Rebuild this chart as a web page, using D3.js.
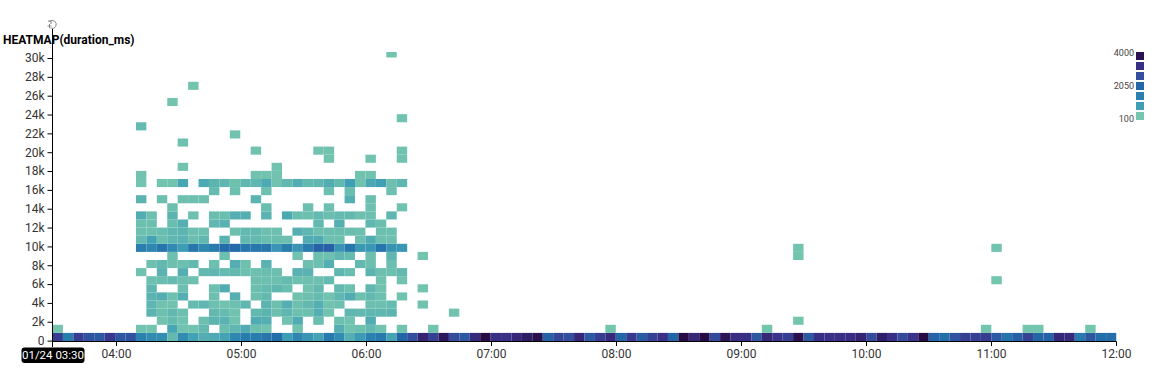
<!DOCTYPE html>
<html>
<head>
<meta charset="utf-8">
<script src="https://cdn.jsdelivr.net/npm/d3@7"></script>
<style>
  html, body { margin: 0; padding: 0; background: #fff; }
  svg { display: block; font-family: Roboto, sans-serif; }
</style>
</head>
<body>
<svg id="chart" width="1156" height="368"></svg>
<script>
// [column, duration value] for each row of the heatmap, column = 5 min bin from 03:30
const row0Values = [3050,1450,3050,2600,2450,3150,2500,2600,1400,1200,1100,320,1150,720,500,560,700,1250,1500,1500,1700,1900,800,1300,950,700,1600,1150,500,850,1400,1600,680,2100,2750,3550,3000,3750,2750,2450,3450,4000,3350,3300,3500,3700,3900,2200,2900,2700,3500,2450,3050,3450,2100,3150,2400,2950,3300,2100,4000,3500,4000,2800,3800,3400,3350,2500,3500,3250,3050,3900,2450,3350,3300,3350,3400,3550,2800,3650,3350,2800,3250,4000,2150,1900,2600,3000,3000,3050,2450,1750,2250,2950,2100,2200,3500,3450,1600,2500,1900,1850];
const row1 = [[0,120],[8,130],[9,130],[11,650],[12,150],[13,150],[14,300],[16,230],[17,350],[18,550],[19,200],[20,150],[23,150],[27,500],[28,150],[29,200],[30,300],[31,150],[33,150],[36,130],[53,120],[68,120],[89,120],[93,120],[94,120],[99,120]];
const row2 = [[10,150],[11,280],[12,150],[14,200],[15,400],[16,430],[17,150],[19,550],[20,480],[22,150],[23,550],[25,230],[27,200],[28,150],[30,550],[71,120]];
const row3 = [[9,400],[10,200],[11,320],[12,200],[15,320],[16,280],[17,150],[19,320],[20,400],[21,200],[22,350],[23,200],[24,200],[25,480],[26,150],[28,350],[29,320],[30,350],[31,350],[32,400],[38,150]];
const row4 = [[9,350],[10,150],[11,150],[13,280],[14,350],[15,200],[16,150],[17,200],[18,350],[20,400],[21,200],[22,480],[23,200],[24,320],[25,480],[26,150],[27,200],[30,200],[31,200],[32,280],[35,150]];
const row5 = [[9,400],[10,480],[11,200],[12,480],[15,200],[17,480],[19,200],[20,320],[23,150],[24,200],[25,280],[26,150],[27,350],[28,550],[29,200],[30,320],[31,200],[33,150]];
const row6 = [[9,350],[12,200],[15,200],[16,520],[19,200],[20,280],[21,350],[22,230],[24,150],[25,320],[27,320],[28,200],[30,350],[31,150],[35,130]];
const row7 = [[9,200],[10,230],[11,280],[12,200],[13,200],[19,200],[20,200],[21,200],[22,280],[23,200],[24,200],[25,200],[26,280],[31,150],[33,150],[90,120]];
const row8 = [[8,150],[10,430],[12,480],[14,320],[15,350],[16,280],[17,320],[18,200],[19,200],[20,230],[21,200],[23,430],[24,430],[27,350],[28,230],[30,400],[31,200],[32,200],[33,320]];
const row9 = [[9,200],[10,320],[11,200],[12,200],[13,320],[15,200],[17,480],[18,200],[20,430],[24,200],[25,200],[26,480],[29,320],[30,200],[32,200]];
const row10 = [[11,200],[16,200],[23,150],[25,200],[26,200],[27,350],[28,280],[30,200],[32,350],[35,130],[71,120]];
const row11 = [[8,1450],[9,1250],[10,1700],[11,1200],[12,800],[13,1650],[14,1250],[15,1500],[16,1950],[17,1950],[18,1650],[19,1650],[20,1650],[21,950],[22,1450],[23,950],[24,1450],[25,2200],[26,2250],[27,950],[28,1650],[29,900],[30,900],[31,1700],[32,1000],[33,900],[71,130],[90,130]];
const row12 = [[8,320],[9,700],[10,230],[11,350],[12,430],[13,230],[14,350],[16,430],[18,320],[19,320],[20,230],[21,230],[22,200],[24,520],[25,550],[26,200],[27,200],[29,200],[30,550],[31,200],[32,200]];
const row13 = [[8,200],[9,200],[10,230],[11,350],[12,400],[13,200],[14,200],[17,200],[18,320],[19,320],[20,200],[21,200],[23,480],[24,350],[25,200],[26,230],[27,230],[28,230],[29,200],[31,200],[32,200]];
const row14 = [[8,200],[9,200],[11,230],[12,480],[15,350],[16,430],[25,320],[27,480],[30,350],[31,200]];
const row15 = [[8,520],[9,200],[11,400],[13,200],[15,230],[16,230],[17,480],[18,480],[20,430],[22,600],[23,230],[24,200],[25,320],[26,230],[27,280],[28,320],[29,200],[30,200],[32,350]];
const row16 = [[11,200],[20,230],[24,200],[26,200],[30,200],[33,150]];
const row17 = [[8,400],[10,200],[12,200],[13,200],[14,200],[19,400],[28,480],[30,230]];
const row18 = [[15,280],[17,200],[20,200],[26,200],[28,230],[32,200]];
const row19 = [[8,130],[10,130],[11,150],[12,650],[14,580],[15,400],[16,350],[17,180],[18,350],[19,350],[20,580],[21,150],[22,320],[23,520],[24,320],[25,350],[26,520],[27,320],[28,750],[29,150],[30,600],[31,750],[32,200],[33,350]];
const row20 = [[8,150],[19,150],[20,150],[21,150],[29,150],[30,150]];
const row21 = [[12,150],[21,150]];
const row22 = [[26,150],[30,150],[33,150]];
const row23 = [[19,150],[25,150],[26,150],[33,150]];
const row24 = [[12,180]];
const row25 = [[17,150]];
const row26 = [[8,300]];
const row27 = [[33,150]];
const row29 = [[11,130]];
const row31 = [[13,130]];
const row35 = [[32,130]];

const rowIndex = [1,2,3,4,5,6,7,8,9,10,11,12,13,14,15,16,17,18,19,20,21,22,23,24,25,26,27,29,31,35];
const rowLists = [row1,row2,row3,row4,row5,row6,row7,row8,row9,row10,row11,row12,row13,row14,row15,row16,row17,row18,row19,row20,row21,row22,row23,row24,row25,row26,row27,row29,row31,row35];

const binMs = 860;
const yMax = 30680;
const yTicks = [0,2000,4000,6000,8000,10000,12000,14000,16000,18000,20000,22000,24000,26000,28000,30000];
const xHours = [4,5,6,7,8,9,10,11,12];
const legendLabels = [4000,2050,100];
const legendSteps = [3850,3350,2700,2050,1400,750,100];
const colorStops = [100,750,1400,2050,2700,3350,4000];
const colorRange = ["#75c6ae","#3f9fb5","#2a80af","#2268a8","#334f9e","#3a2f86","#270b44"];

const dim = {
  left: 52.5, right: 1116.5, bottom: 341, top: 52
};

const svg = d3.select("#chart");

const startBins = d3.range(102).map(i => i);
const xBand = d3.scaleBand().domain(startBins).range([dim.left, dim.right]);
const xTime = d3.scaleUtc()
  .domain([Date.UTC(2024,0,24,3,29,17), Date.UTC(2024,0,24,12,0,0)])
  .range([dim.left, dim.right]);
const y = d3.scaleLinear().domain([0, yMax]).range([dim.bottom, dim.top]);
const color = d3.scaleLinear().domain(colorStops).range(colorRange).clamp(true);

svg.append("defs").append("clipPath").attr("id", "plot_clip")
  .append("rect")
  .attr("x", dim.left).attr("y", dim.top)
  .attr("width", dim.right - dim.left).attr("height", dim.bottom - dim.top);

// flatten the rows to cells
const cells = [];
row0Values.forEach((v, c) => cells.push({row: 0, col: c, value: v}));
rowLists.forEach((list, i) => {
  list.forEach(d => cells.push({row: rowIndex[i], col: d[0], value: d[1]}));
});

svg.append("g").attr("clip-path", "url(#plot_clip)")
  .selectAll("rect.cell")
  .data(cells)
  .join("rect")
  .attr("class", "cell")
  .attr("x", d => xBand(d.col))
  .attr("width", xBand.bandwidth())
  .attr("y", d => y((d.row + 1) * binMs))
  .attr("height", d => y(d.row * binMs) - y((d.row + 1) * binMs))
  .attr("fill", d => color(d.value));

// y axis
const yAxis = d3.axisLeft(y)
  .tickValues(yTicks)
  .tickSize(5)
  .tickPadding(3)
  .offset(0.1)
  .tickFormat(d => d === 0 ? "0" : (d / 1000) + "k");

const yG = svg.append("g").attr("transform", `translate(${dim.left},0)`).call(yAxis);
yG.select(".domain").remove();
yG.selectAll("text").attr("font-size", 12).attr("font-family", "Roboto, sans-serif").attr("fill", "#333");
yG.selectAll("line").attr("stroke", "#000");

svg.append("line")
  .attr("x1", dim.left).attr("x2", dim.left)
  .attr("y1", 29).attr("y2", dim.bottom)
  .attr("stroke", "#000");

// x axis
const xAxis = d3.axisBottom(xTime)
  .tickValues(xHours.map(h => Date.UTC(2024,0,24,h)))
  .tickSize(5)
  .tickPadding(3)
  .offset(0)
  .tickFormat(d3.utcFormat("%H:%M"));

const xG = svg.append("g").attr("transform", `translate(0,${dim.bottom})`).call(xAxis);
xG.select(".domain").attr("stroke", "#000").attr("d", `M${dim.left},0.5H${dim.right}`);
xG.selectAll("text").attr("font-size", 12).attr("font-family", "Roboto, sans-serif").attr("fill", "#333");
xG.selectAll("line").attr("stroke", "#000").attr("y1", 0.5);

svg.append("line")
  .attr("x1", dim.left).attr("x2", dim.left)
  .attr("y1", dim.bottom).attr("y2", dim.bottom + 6)
  .attr("stroke", "#000");

// start time badge
svg.append("rect")
  .attr("x", 21.5).attr("y", 347.5)
  .attr("width", 63).attr("height", 15.5)
  .attr("rx", 3)
  .attr("fill", "#000");
svg.append("text")
  .attr("x", 53).attr("y", 359)
  .attr("text-anchor", "middle")
  .attr("font-size", 11.5)
  .attr("fill", "#fff")
  .text("01/24 03:30");

// title
svg.append("text")
  .attr("x", 3).attr("y", 44)
  .attr("font-size", 12)
  .attr("font-weight", 700)
  .attr("fill", "#000")
  .text("HEATMAP(duration_ms)");

// reset zoom icon
const icon = svg.append("g")
  .attr("transform", "translate(52.5,24.5)")
  .attr("fill", "none")
  .attr("stroke", "#888")
  .attr("stroke-width", 1);
icon.append("path").attr("d", "M-3,-3A4,4 0 1 1 -2,3.5");
icon.append("path").attr("d", "M-4.5,-3.5H-1.5V-0.5");
icon.append("path").attr("d", "M-5,1.5H-1M-3,-0.5V3.5");

// legend
const legendY = d3.scaleBand().domain(d3.range(legendSteps.length)).range([52, 122]);
svg.append("g").selectAll("rect")
  .data(legendSteps)
  .join("rect")
  .attr("x", 1136)
  .attr("y", (d, i) => legendY(i))
  .attr("width", 8)
  .attr("height", 8)
  .attr("fill", d => color(d));

svg.append("g").selectAll("text")
  .data(legendLabels)
  .join("text")
  .attr("x", 1134)
  .attr("y", (d, i) => [56, 89, 122][i])
  .attr("text-anchor", "end")
  .attr("font-size", 9)
  .attr("fill", "#444")
  .text(d => d);
</script>
</body>
</html>
